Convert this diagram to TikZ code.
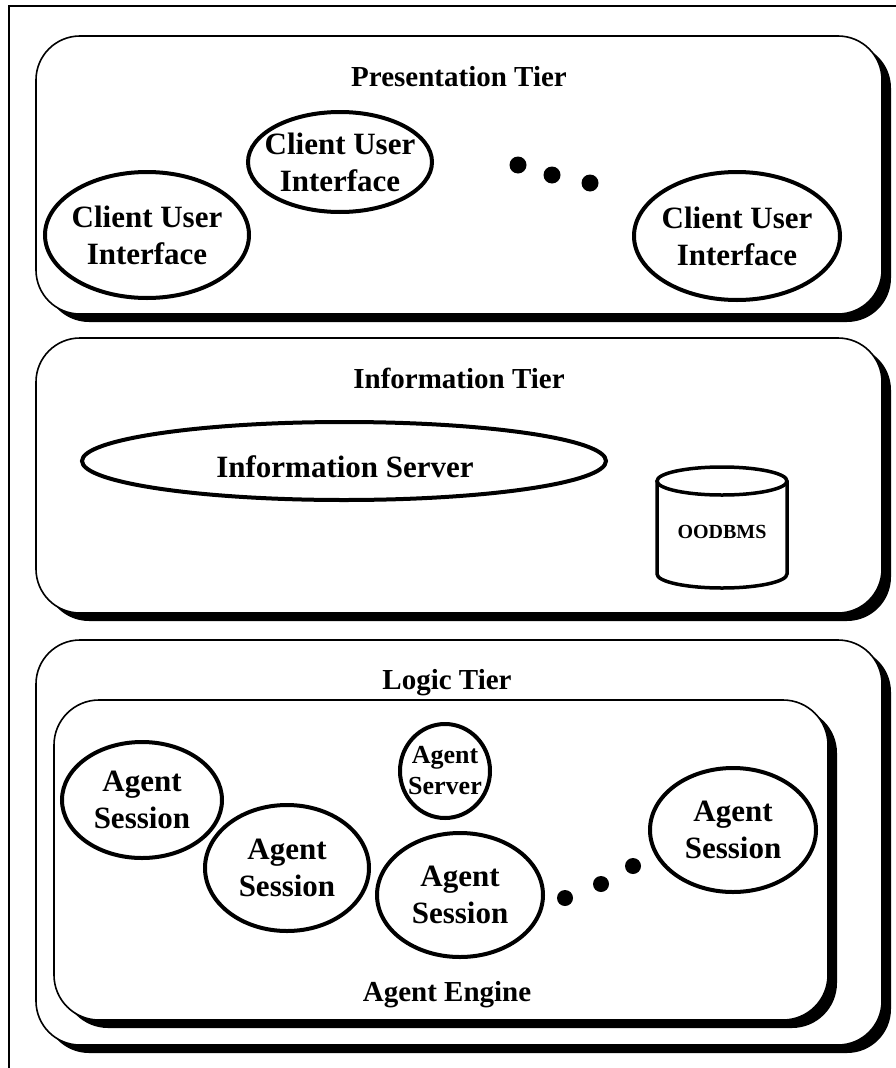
\documentclass[tikz,border=0pt]{standalone}
\usepackage{fontspec}
\setmainfont{Liberation Serif}
\usetikzlibrary{shapes.geometric,shadows}
\begin{document}
\begin{tikzpicture}[x=1pt,y=-1pt,
  tier/.style={draw, fill=white, line width=1.6pt, rounded corners=44pt, inner sep=0pt,
    drop shadow={shadow xshift=9pt, shadow yshift=-8pt, fill=black, opacity=1}},
  blob/.style={draw, ellipse, line width=4pt, inner sep=0pt},
  lbl/.style={font=\fontsize{31}{37}\selectfont\bfseries, align=center, inner sep=0pt},
  ttl/.style={font=\fontsize{29}{34}\selectfont\bfseries, inner sep=0pt},
  dot/.style={circle, fill=black, inner sep=0pt, minimum size=17pt}]
\useasboundingbox (0,0) rectangle (896,1068);
\fill[white] (0,0) rectangle (896,1068);

% frame
\coordinate (fb) at (9,1068);
\coordinate (ftl) at (9,6);
\coordinate (ftr) at (896,6);
\draw[line width=2pt] (fb) -- (ftl) -- (ftr);

% presentation tier
\node[tier, minimum width=846pt, minimum height=278pt] (pres) at (459,175) {};
\node[ttl] (prest) at (459,77) {Presentation Tier};
\node[blob, minimum width=204pt, minimum height=126pt] (cui1) at (147,235) {};
\node[lbl] (cui1t) at (cui1) {Client User\\Interface};
\node[blob, minimum width=184pt, minimum height=100pt] (cui2) at (340,162) {};
\node[lbl] (cui2t) at (cui2) {Client User\\Interface};
\node[blob, minimum width=206pt, minimum height=128pt] (cui3) at (737,236) {};
\node[lbl] (cui3t) at (cui3) {Client User\\Interface};
\node[dot] (pd1) at (518,165) {};
\node[dot] (pd2) at (552,175) {};
\node[dot] (pd3) at (590,183) {};

% information tier
\node[tier, minimum width=846pt, minimum height=275pt] (info) at (459,475.5) {};
\node[ttl] (infot) at (459,378) {Information Tier};
\node[blob, minimum width=524pt, minimum height=78pt] (iserv) at (344,461) {};
\node[lbl] (iservt) at (345,467) {Information Server};
% database cylinder
\draw[line width=3.5pt] (722,481) ellipse [x radius=65, y radius=14];
\draw[line width=3.5pt] (657,481) -- (657,574) arc[start angle=180, end angle=0, x radius=65, y radius=14] -- (787,481);
\node[font=\fontsize{20}{24}\selectfont\bfseries, inner sep=0pt] (db) at (722,532) {OODBMS};

% logic tier
\node[tier, minimum width=846pt, minimum height=405pt] (logic) at (459,842.5) {};
\node[ttl] (logict) at (447,683) {Logic Tier};
\node[tier, rounded corners=45pt, minimum width=774pt, minimum height=320pt] (engine) at (441,860) {};
\node[ttl] (enginet) at (447,995) {Agent Engine};
\node[blob, minimum width=160pt, minimum height=116pt] (as1) at (142,800) {};
\node[lbl] (as1t) at (as1) {Agent\\Session};
\node[blob, minimum width=164pt, minimum height=126pt] (as2) at (287,868) {};
\node[lbl] (as2t) at (as2) {Agent\\Session};
\node[blob, minimum width=90pt, minimum height=94pt] (aserv) at (445,771) {};
\node[lbl, font=\fontsize{26}{31}\selectfont\bfseries] (aservt) at (aserv) {Agent\\Server};
\node[blob, minimum width=166pt, minimum height=124pt] (as3) at (460,895) {};
\node[lbl] (as3t) at (as3) {Agent\\Session};
\node[dot, minimum size=16pt] (ld1) at (565,898) {};
\node[dot, minimum size=16pt] (ld2) at (601,884) {};
\node[dot, minimum size=16pt] (ld3) at (633,866) {};
\node[blob, minimum width=166pt, minimum height=124pt] (as4) at (733,830) {};
\node[lbl] (as4t) at (as4) {Agent\\Session};
\end{tikzpicture}
\end{document}
